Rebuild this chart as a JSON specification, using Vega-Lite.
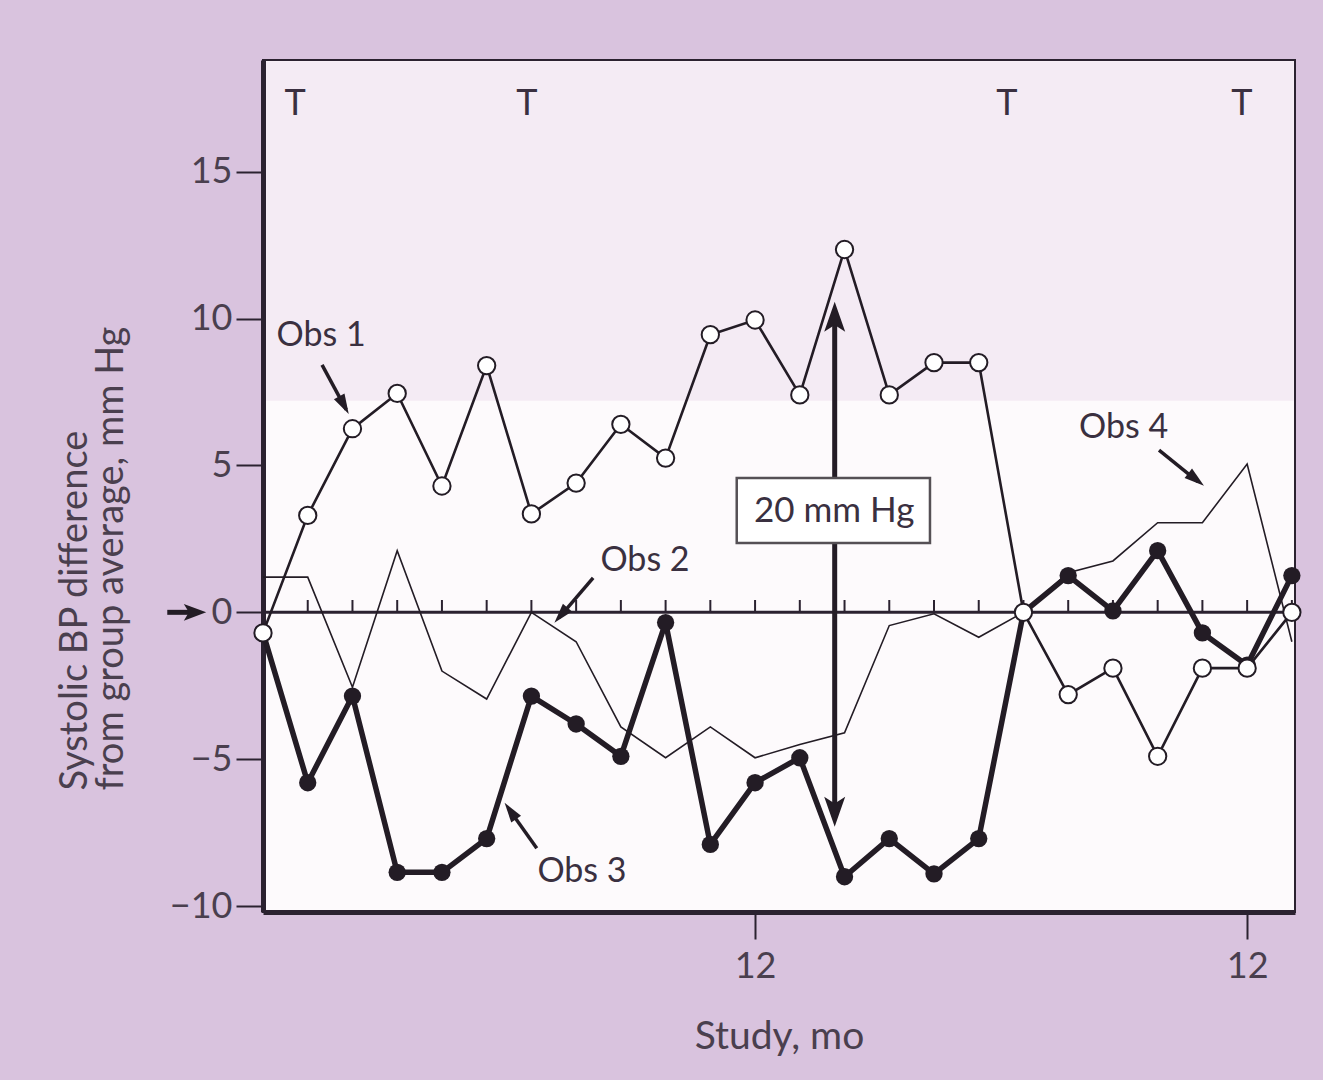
{
  "$schema": "https://vega.github.io/schema/vega-lite/v6.json",
  "width": 1032,
  "height": 852,
  "autosize": {"type": "none"},
  "padding": {"left": 263, "top": 60, "right": 28, "bottom": 168},
  "background": "#d9c3de",
  "config": {
    "view": {"fill": "#fdfafc", "stroke": "#2b2230", "strokeWidth": 2},
    "font": "Lato",
    "text": {"font": "Lato"}
  },
  "datasets": {
    "series": [
      {"obs": "Obs 1", "visit": 0, "value": -0.7},
      {"obs": "Obs 1", "visit": 1, "value": 3.3},
      {"obs": "Obs 1", "visit": 2, "value": 6.25},
      {"obs": "Obs 1", "visit": 3, "value": 7.45},
      {"obs": "Obs 1", "visit": 4, "value": 4.3},
      {"obs": "Obs 1", "visit": 5, "value": 8.4},
      {"obs": "Obs 1", "visit": 6, "value": 3.35},
      {"obs": "Obs 1", "visit": 7, "value": 4.4},
      {"obs": "Obs 1", "visit": 8, "value": 6.4},
      {"obs": "Obs 1", "visit": 9, "value": 5.25},
      {"obs": "Obs 1", "visit": 10, "value": 9.45},
      {"obs": "Obs 1", "visit": 11, "value": 9.95},
      {"obs": "Obs 1", "visit": 12, "value": 7.4},
      {"obs": "Obs 1", "visit": 13, "value": 12.35},
      {"obs": "Obs 1", "visit": 14, "value": 7.4},
      {"obs": "Obs 1", "visit": 15, "value": 8.5},
      {"obs": "Obs 1", "visit": 16, "value": 8.5},
      {"obs": "Obs 1", "visit": 17, "value": 0},
      {"obs": "Obs 1", "visit": 18, "value": -2.8},
      {"obs": "Obs 1", "visit": 19, "value": -1.9},
      {"obs": "Obs 1", "visit": 20, "value": -4.9},
      {"obs": "Obs 1", "visit": 21, "value": -1.9},
      {"obs": "Obs 1", "visit": 22, "value": -1.9},
      {"obs": "Obs 1", "visit": 23, "value": 0},
      {"obs": "Obs 3", "visit": 0, "value": -0.7},
      {"obs": "Obs 3", "visit": 1, "value": -5.8},
      {"obs": "Obs 3", "visit": 2, "value": -2.85},
      {"obs": "Obs 3", "visit": 3, "value": -8.85},
      {"obs": "Obs 3", "visit": 4, "value": -8.85},
      {"obs": "Obs 3", "visit": 5, "value": -7.7},
      {"obs": "Obs 3", "visit": 6, "value": -2.85},
      {"obs": "Obs 3", "visit": 7, "value": -3.8},
      {"obs": "Obs 3", "visit": 8, "value": -4.9},
      {"obs": "Obs 3", "visit": 9, "value": -0.35},
      {"obs": "Obs 3", "visit": 10, "value": -7.9},
      {"obs": "Obs 3", "visit": 11, "value": -5.8},
      {"obs": "Obs 3", "visit": 12, "value": -4.95},
      {"obs": "Obs 3", "visit": 13, "value": -9.0},
      {"obs": "Obs 3", "visit": 14, "value": -7.7},
      {"obs": "Obs 3", "visit": 15, "value": -8.9},
      {"obs": "Obs 3", "visit": 16, "value": -7.7},
      {"obs": "Obs 3", "visit": 17, "value": 0},
      {"obs": "Obs 3", "visit": 18, "value": 1.25},
      {"obs": "Obs 3", "visit": 19, "value": 0.05},
      {"obs": "Obs 3", "visit": 20, "value": 2.1},
      {"obs": "Obs 3", "visit": 21, "value": -0.7},
      {"obs": "Obs 3", "visit": 22, "value": -1.8},
      {"obs": "Obs 3", "visit": 23, "value": 1.25},
      {"obs": "Obs 2", "visit": 0, "value": 1.2},
      {"obs": "Obs 2", "visit": 1, "value": 1.2},
      {"obs": "Obs 2", "visit": 2, "value": -2.55},
      {"obs": "Obs 2", "visit": 3, "value": 2.1},
      {"obs": "Obs 2", "visit": 4, "value": -2.0},
      {"obs": "Obs 2", "visit": 5, "value": -2.95},
      {"obs": "Obs 2", "visit": 6, "value": 0},
      {"obs": "Obs 2", "visit": 7, "value": -1.0},
      {"obs": "Obs 2", "visit": 8, "value": -3.9},
      {"obs": "Obs 2", "visit": 9, "value": -4.95},
      {"obs": "Obs 2", "visit": 10, "value": -3.9},
      {"obs": "Obs 2", "visit": 11, "value": -4.95},
      {"obs": "Obs 2", "visit": 12, "value": -4.5},
      {"obs": "Obs 2", "visit": 13, "value": -4.1},
      {"obs": "Obs 2", "visit": 14, "value": -0.45},
      {"obs": "Obs 2", "visit": 15, "value": -0.05},
      {"obs": "Obs 2", "visit": 16, "value": -0.85},
      {"obs": "Obs 2", "visit": 17, "value": 0},
      {"obs": "Obs 4", "visit": 17, "value": 0},
      {"obs": "Obs 4", "visit": 18, "value": 1.35},
      {"obs": "Obs 4", "visit": 19, "value": 1.75},
      {"obs": "Obs 4", "visit": 20, "value": 3.05},
      {"obs": "Obs 4", "visit": 21, "value": 3.05},
      {"obs": "Obs 4", "visit": 22, "value": 5.05},
      {"obs": "Obs 4", "visit": 23, "value": -1.0}
    ],
    "treatments": [
      {"label": "T", "visit": 0.72, "value": 17.3},
      {"label": "T", "visit": 5.9, "value": 17.3},
      {"label": "T", "visit": 16.63, "value": 17.3},
      {"label": "T", "visit": 21.88, "value": 17.3}
    ],
    "callouts": [
      {"label": "Obs 1", "tx": 1.30, "ty": 9.40, "x1": 1.32, "y1": 8.42, "x2": 1.86, "y2": 6.9, "hx": 1.81, "hy": 7.05, "heading": 151.6},
      {"label": "Obs 2", "tx": 8.54, "ty": 1.75, "x1": 7.38, "y1": 1.17, "x2": 6.62, "y2": -0.18, "hx": 6.66, "hy": -0.1, "heading": 220.8},
      {"label": "Obs 3", "tx": 7.13, "ty": -8.84, "x1": 6.12, "y1": -8.03, "x2": 5.5, "y2": -6.7, "hx": 5.53, "hy": -6.76, "heading": 324.8},
      {"label": "Obs 4", "tx": 19.24, "ty": 6.27, "x1": 20.03, "y1": 5.52, "x2": 20.9, "y2": 4.45, "hx": 20.86, "hy": 4.52, "heading": 128.5}
    ],
    "bigheads": [
      {"visit": 12.78, "value": 10.06, "heading": 0},
      {"visit": 12.78, "value": -6.79, "heading": 180}
    ],
    "zeroarrow": [
      {"visit": -1.52, "value": 0, "heading": 90}
    ],
    "one": [{}]
  },
  "layer": [
    {
      "data": {"name": "one"},
      "mark": {"type": "rect", "fill": "#f4ebf4"},
      "encoding": {
        "x": {"datum": 0.07, "type": "quantitative", "title": "Study, mo", "scale": {"domain": [0, 23.07], "nice": false, "zero": false},
          "axis": {"values": [11, 22], "labelExpr": "'12'", "grid": false,
            "domainWidth": 5, "domainColor": "#2b2230", "tickSize": 27, "tickWidth": 2, "tickColor": "#2b2230",
            "labelFontSize": 36, "labelColor": "#4a3f4e", "labelPadding": 10, "labelFont": "Lato",
            "titleFont": "Lato", "titleFontSize": 39, "titleFontWeight": "normal", "titleColor": "#4a3f4e",
            "titleY": 136, "titleBaseline": "alphabetic"}},
        "x2": {"datum": 23.04},
        "y": {"datum": 7.2, "type": "quantitative", "title": ["Systolic BP difference", "from group average, mm Hg"], "scale": {"domain": [-10.2, 18.8], "nice": false, "zero": false},
          "axis": {"values": [-10, -5, 0, 5, 10, 15], "grid": false,
            "domainWidth": 5, "domainColor": "#2b2230", "tickSize": 27, "tickWidth": 2, "tickColor": "#2b2230",
            "labelFontSize": 36, "labelColor": "#4a3f4e", "labelPadding": 4, "labelFont": "Lato",
            "titleFont": "Lato", "titleFontSize": 38, "titleFontWeight": "normal", "titleColor": "#4a3f4e",
            "titleLineHeight": 36, "titleAngle": -90, "titleAlign": "left", "titleBaseline": "middle",
            "titleX": -188, "titleY": 730}},
        "y2": {"datum": 18.76}
      }
    },
    {
      "data": {"name": "one"},
      "mark": {"type": "rule", "color": "#2b2230", "strokeWidth": 3},
      "encoding": {
        "x": {"datum": 0, "type": "quantitative", "title": "Study, mo"},
        "x2": {"datum": 23.07},
        "y": {"datum": 0, "type": "quantitative", "title": ["Systolic BP difference", "from group average, mm Hg"]}
      }
    },
    {
      "data": {"name": "series"},
      "transform": [{"filter": "datum.obs == 'Obs 1' && datum.visit > 0"}],
      "mark": {"type": "rule", "color": "#2b2230", "strokeWidth": 2},
      "encoding": {
        "x": {"field": "visit", "type": "quantitative", "title": "Study, mo"},
        "y": {"datum": 0, "type": "quantitative", "title": ["Systolic BP difference", "from group average, mm Hg"]},
        "y2": {"datum": 0.42}
      }
    },
    {
      "data": {"name": "series"},
      "transform": [{"filter": "datum.obs == 'Obs 2' || datum.obs == 'Obs 4'"}],
      "mark": {"type": "line", "color": "#231c25", "strokeWidth": 1.6},
      "encoding": {
        "x": {"field": "visit", "type": "quantitative", "title": "Study, mo"},
        "y": {"field": "value", "type": "quantitative", "title": ["Systolic BP difference", "from group average, mm Hg"]},
        "detail": {"field": "obs"}
      }
    },
    {
      "data": {"name": "series"},
      "transform": [{"filter": "datum.obs == 'Obs 3'"}],
      "mark": {"type": "line", "color": "#231c25", "strokeWidth": 5.5, "strokeJoin": "round"},
      "encoding": {
        "x": {"field": "visit", "type": "quantitative", "title": "Study, mo"},
        "y": {"field": "value", "type": "quantitative", "title": ["Systolic BP difference", "from group average, mm Hg"]}
      }
    },
    {
      "data": {"name": "series"},
      "transform": [{"filter": "datum.obs == 'Obs 3' && datum.visit > 0"}],
      "mark": {"type": "point", "shape": "circle", "filled": true, "color": "#231c25", "size": 300, "opacity": 1},
      "encoding": {
        "x": {"field": "visit", "type": "quantitative", "title": "Study, mo"},
        "y": {"field": "value", "type": "quantitative", "title": ["Systolic BP difference", "from group average, mm Hg"]}
      }
    },
    {
      "data": {"name": "series"},
      "transform": [{"filter": "datum.obs == 'Obs 1'"}],
      "mark": {"type": "line", "color": "#231c25", "strokeWidth": 2.6},
      "encoding": {
        "x": {"field": "visit", "type": "quantitative", "title": "Study, mo"},
        "y": {"field": "value", "type": "quantitative", "title": ["Systolic BP difference", "from group average, mm Hg"]}
      }
    },
    {
      "data": {"name": "one"},
      "mark": {"type": "rule", "color": "#231c25", "strokeWidth": 5},
      "encoding": {
        "x": {"datum": 12.78, "type": "quantitative", "title": "Study, mo"},
        "y": {"datum": -6.79, "type": "quantitative", "title": ["Systolic BP difference", "from group average, mm Hg"]},
        "y2": {"datum": 10.06}
      }
    },
    {
      "data": {"name": "bigheads"},
      "mark": {"type": "point", "shape": "M0,-1L0.7,1L0,0.55L-0.7,1Z", "filled": true, "color": "#231c25", "size": 900, "opacity": 1},
      "encoding": {
        "x": {"field": "visit", "type": "quantitative", "title": "Study, mo"},
        "y": {"field": "value", "type": "quantitative", "title": ["Systolic BP difference", "from group average, mm Hg"]},
        "angle": {"field": "heading", "type": "quantitative", "scale": null}
      }
    },
    {
      "data": {"name": "series"},
      "transform": [{"filter": "datum.obs == 'Obs 1'"}],
      "mark": {"type": "point", "shape": "circle", "filled": true, "fill": "#ffffff", "stroke": "#231c25", "strokeWidth": 2, "size": 300, "opacity": 1},
      "encoding": {
        "x": {"field": "visit", "type": "quantitative", "title": "Study, mo"},
        "y": {"field": "value", "type": "quantitative", "title": ["Systolic BP difference", "from group average, mm Hg"]}
      }
    },
    {
      "data": {"name": "one"},
      "mark": {"type": "rect", "fill": "#ffffff", "stroke": "#555055", "strokeWidth": 2.5},
      "encoding": {
        "x": {"datum": 10.59, "type": "quantitative", "title": "Study, mo"},
        "x2": {"datum": 14.91},
        "y": {"datum": 2.36, "type": "quantitative", "title": ["Systolic BP difference", "from group average, mm Hg"]},
        "y2": {"datum": 4.57}
      }
    },
    {
      "data": {"name": "one"},
      "mark": {"type": "text", "text": "20 mm Hg", "font": "Lato", "fontSize": 35, "color": "#3a3040", "align": "center", "baseline": "middle"},
      "encoding": {
        "x": {"datum": 12.77, "type": "quantitative", "title": "Study, mo"},
        "y": {"datum": 3.45, "type": "quantitative", "title": ["Systolic BP difference", "from group average, mm Hg"]}
      }
    },
    {
      "data": {"name": "callouts"},
      "mark": {"type": "rule", "color": "#231c25", "strokeWidth": 3.5},
      "encoding": {
        "x": {"field": "x1", "type": "quantitative", "title": "Study, mo"},
        "y": {"field": "y1", "type": "quantitative", "title": ["Systolic BP difference", "from group average, mm Hg"]},
        "x2": {"field": "x2"},
        "y2": {"field": "y2"}
      }
    },
    {
      "data": {"name": "callouts"},
      "mark": {"type": "point", "shape": "M0,-1L0.6,1L-0.6,1Z", "filled": true, "color": "#231c25", "size": 400, "opacity": 1},
      "encoding": {
        "x": {"field": "hx", "type": "quantitative", "title": "Study, mo"},
        "y": {"field": "hy", "type": "quantitative", "title": ["Systolic BP difference", "from group average, mm Hg"]},
        "angle": {"field": "heading", "type": "quantitative", "scale": null}
      }
    },
    {
      "data": {"name": "callouts"},
      "mark": {"type": "text", "font": "Lato", "fontSize": 34, "color": "#3a3040", "align": "center", "baseline": "middle"},
      "encoding": {
        "x": {"field": "tx", "type": "quantitative", "title": "Study, mo"},
        "y": {"field": "ty", "type": "quantitative", "title": ["Systolic BP difference", "from group average, mm Hg"]},
        "text": {"field": "label"}
      }
    },
    {
      "data": {"name": "treatments"},
      "mark": {"type": "text", "font": "Lato", "fontSize": 36, "color": "#3a3040", "align": "center", "baseline": "middle"},
      "encoding": {
        "x": {"field": "visit", "type": "quantitative", "title": "Study, mo"},
        "y": {"field": "value", "type": "quantitative", "title": ["Systolic BP difference", "from group average, mm Hg"]},
        "text": {"field": "label"}
      }
    },
    {
      "data": {"name": "one"},
      "mark": {"type": "rule", "color": "#231c25", "strokeWidth": 5},
      "encoding": {
        "x": {"datum": -2.14, "type": "quantitative", "title": "Study, mo"},
        "x2": {"datum": -1.55},
        "y": {"datum": 0, "type": "quantitative", "title": ["Systolic BP difference", "from group average, mm Hg"]}
      }
    },
    {
      "data": {"name": "zeroarrow"},
      "mark": {"type": "point", "shape": "M0,-1L0.75,1L0,0.55L-0.75,1Z", "filled": true, "color": "#231c25", "size": 500, "opacity": 1},
      "encoding": {
        "x": {"field": "visit", "type": "quantitative", "title": "Study, mo"},
        "y": {"field": "value", "type": "quantitative", "title": ["Systolic BP difference", "from group average, mm Hg"]},
        "angle": {"field": "heading", "type": "quantitative", "scale": null}
      }
    }
  ]
}
